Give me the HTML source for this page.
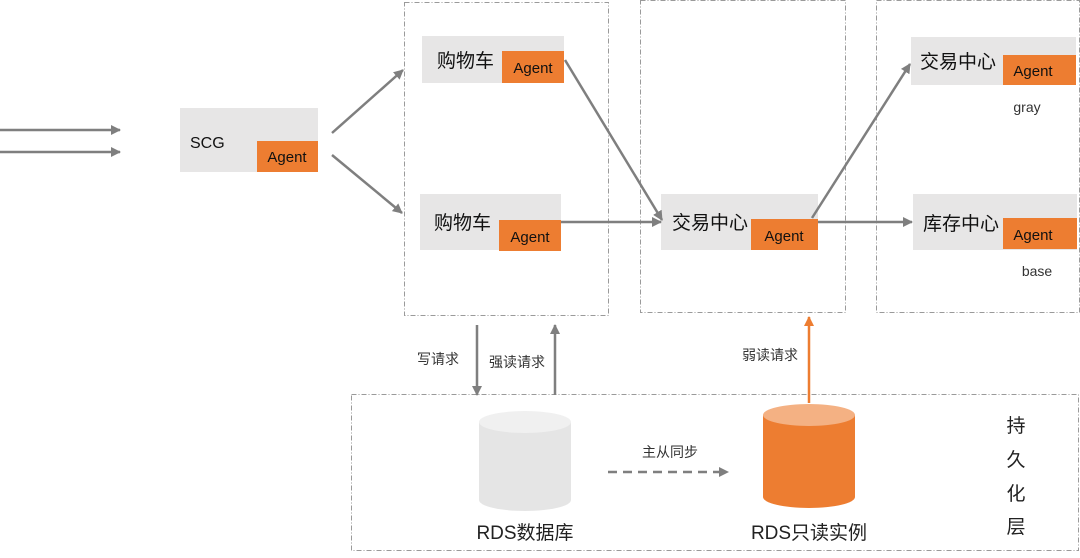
<!DOCTYPE html>
<html><head><meta charset="utf-8"><style>
html,body{margin:0;padding:0;background:#fff;}
svg{display:block;font-family:"Liberation Sans","Noto Sans CJK SC",sans-serif;}
</style></head><body>
<svg width="1080" height="558" viewBox="0 0 1080 558" xmlns="http://www.w3.org/2000/svg">
<defs>
<marker id="ag" markerWidth="10" markerHeight="10" refX="9" refY="5" orient="auto" markerUnits="userSpaceOnUse"><path d="M0,0 L10,5 L0,10 Z" fill="#7f7f7f"/></marker>
<marker id="ao" markerWidth="10" markerHeight="10" refX="9" refY="5" orient="auto" markerUnits="userSpaceOnUse"><path d="M0,0 L10,5 L0,10 Z" fill="#ed7d31"/></marker>
</defs>
<g fill="none" stroke="#9a9a9a" stroke-width="1" stroke-dasharray="5,2,1,2">
<rect x="404.5" y="2.5" width="204" height="313"/>
<rect x="640.5" y="0.5" width="205" height="312"/>
<rect x="876.5" y="0.5" width="203" height="312"/>
<rect x="351.5" y="394.5" width="727" height="156"/>
</g>
<g fill="#e7e6e6">
<rect x="180" y="108" width="138" height="64"/>
<rect x="422" y="36" width="142" height="47"/>
<rect x="420" y="194" width="141" height="56"/>
<rect x="661" y="194" width="157" height="56"/>
<rect x="911" y="37" width="165" height="48"/>
<rect x="913" y="194" width="164" height="56"/>
</g>
<g fill="#ed7d31">
<rect x="257" y="141" width="61" height="31"/>
<rect x="502" y="51" width="62" height="32"/>
<rect x="499" y="220" width="62" height="31"/>
<rect x="751" y="219" width="67" height="31"/>
<rect x="1003" y="55" width="73" height="30"/>
<rect x="1003" y="218" width="74" height="31"/>
</g>
<g font-size="15" fill="#111">
<text x="287" y="162" text-anchor="middle">Agent</text>
<text x="533" y="73" text-anchor="middle">Agent</text>
<text x="530" y="242" text-anchor="middle">Agent</text>
<text x="784" y="241" text-anchor="middle">Agent</text>
<text x="1033" y="76" text-anchor="middle">Agent</text>
<text x="1033" y="240" text-anchor="middle">Agent</text>
</g>
<g font-size="19" fill="#111">
<text x="190" y="148" font-size="16">SCG</text>
<text x="437" y="67">购物车</text>
<text x="434" y="229">购物车</text>
<text x="672" y="229">交易中心</text>
<text x="920" y="68">交易中心</text>
<text x="923" y="230">库存中心</text>
</g>
<text x="1027" y="112" font-size="14" fill="#333" text-anchor="middle">gray</text>
<text x="1037" y="276" font-size="14" fill="#333" text-anchor="middle">base</text>
<g stroke="#7f7f7f" stroke-width="2.5" fill="none" marker-end="url(#ag)">
<line x1="0" y1="130" x2="120" y2="130"/>
<line x1="0" y1="152" x2="120" y2="152"/>
<line x1="332" y1="133" x2="403" y2="70"/>
<line x1="332" y1="155" x2="402" y2="213"/>
<line x1="565" y1="60" x2="662" y2="220"/>
<line x1="561" y1="222" x2="661" y2="222"/>
<line x1="812" y1="218" x2="910" y2="64"/>
<line x1="818" y1="222" x2="912" y2="222"/>
<line x1="477" y1="325" x2="477" y2="395"/>
<line x1="555" y1="395" x2="555" y2="325"/>
<line x1="608" y1="472" x2="728" y2="472" stroke-dasharray="9,6"/>
</g>
<line x1="809" y1="403" x2="809" y2="317" stroke="#ed7d31" stroke-width="2.5" marker-end="url(#ao)"/>
<g font-size="14" fill="#333" text-anchor="middle">
<text x="438" y="364">写请求</text>
<text x="517" y="367">强读请求</text>
<text x="770" y="360">弱读请求</text>
<text x="670" y="457">主从同步</text>
</g>
<path d="M479,422 L479,500 A46,11 0 0 0 571,500 L571,422 Z" fill="#e5e5e5"/>
<ellipse cx="525" cy="422" rx="46" ry="11" fill="#f0f0f0"/>
<path d="M763,415 L763,497 A46,11 0 0 0 855,497 L855,415 Z" fill="#ed7d31"/>
<ellipse cx="809" cy="415" rx="46" ry="11" fill="#f4b183"/>
<g font-size="19" fill="#222" text-anchor="middle">
<text x="525" y="539">RDS数据库</text>
<text x="809" y="539">RDS只读实例</text>
<text x="1016" y="432">持</text>
<text x="1016" y="466">久</text>
<text x="1016" y="500">化</text>
<text x="1016" y="533">层</text>
</g>
</svg>
</body></html>
